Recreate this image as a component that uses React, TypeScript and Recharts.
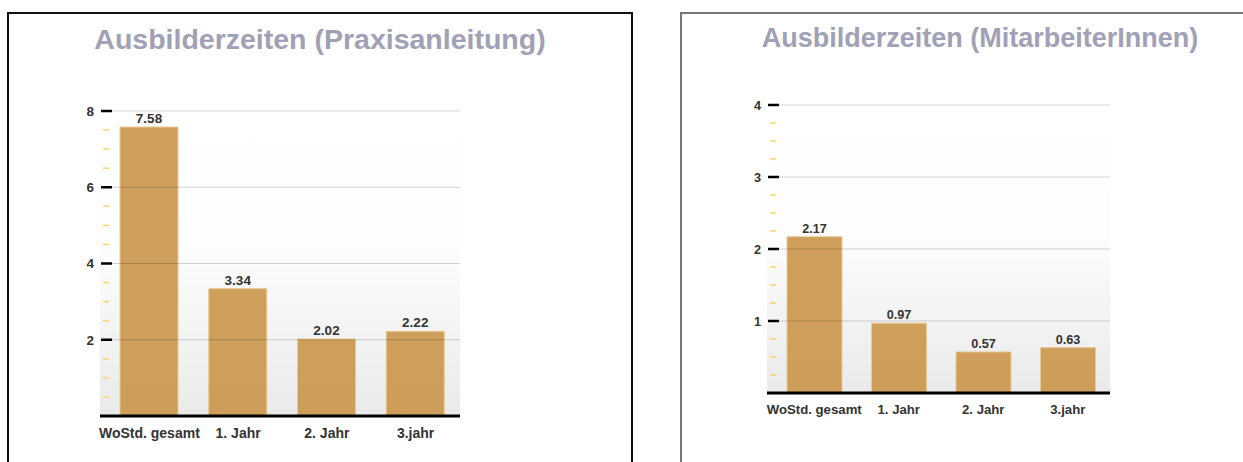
import React from 'react'
import { BarChart, Bar, XAxis, YAxis, CartesianGrid, LabelList } from 'recharts'

const categories = ['WoStd. gesamt', '1. Jahr', '2. Jahr', '3.jahr']
const praxisValues = [7.58, 3.34, 2.02, 2.22]
const mitarbeiterValues = [2.17, 0.97, 0.57, 0.63]
const praxisTicks = [0.5, 1, 1.5, 2, 2.5, 3, 3.5, 4, 4.5, 5, 5.5, 6, 6.5, 7, 7.5, 8]
const mitarbeiterTicks = [0.25, 0.5, 0.75, 1, 1.25, 1.5, 1.75, 2, 2.25, 2.5, 2.75, 3, 3.25, 3.5, 3.75, 4]

const FONT = '"Liberation Sans", Arial, sans-serif'
const TEXT = '#333333'

function makeYTick(left: number, right: number, major: number, fs: number) {
  return (props: any) => {
    const { y, payload } = props
    const v = payload.value
    if (v % major === 0) {
      return (
        <g>
          <line x1={left + 1} x2={left + 12} y1={y} y2={y} stroke="#000" strokeWidth={2.5} />
          <line x1={left + 12} x2={right} y1={y} y2={y} stroke="#000" strokeOpacity={0.17} strokeWidth={1} />
          <text x={left - 6} y={y} dy="0.36em" textAnchor="end" fontFamily={FONT} fontWeight="bold" fontSize={fs} fill={TEXT}>
            {v}
          </text>
        </g>
      )
    }
    return <line x1={left + 3} x2={left + 9} y1={y} y2={y} stroke="#f9d56a" strokeWidth={1.5} />
  }
}

interface PanelProps {
  id: string
  values: number[]
  ticks: number[]
  max: number
  major: number
  width: number
  plotLeft: number
  plotRight: number
  plotTop: number
  plotBottom: number
  barSize: number
  padLeft: number
  fontSize: number
}

function Panel(p: PanelProps) {
  const data = categories.map((name, i) => ({ name, value: p.values[i] }))
  const height = 462
  return (
    <BarChart
      width={p.width}
      height={height}
      data={data}
      margin={{ top: p.plotTop, right: p.width - p.plotRight, bottom: 0, left: 0 }}
    >
      <defs>
        <linearGradient id={p.id} x1="0" y1="0" x2="0" y2="1">
          <stop offset="0" stopColor="#ffffff" />
          <stop offset="0.45" stopColor="#fdfdfd" />
          <stop offset="1" stopColor="#eaeaea" />
        </linearGradient>
      </defs>
      <CartesianGrid horizontal={false} vertical={false} fill={`url(#${p.id})`} stroke="none" />
      <XAxis
        dataKey="name"
        height={height - p.plotBottom}
        axisLine={{ stroke: '#000', strokeWidth: 3 }}
        tickLine={false}
        tickSize={8}
        tickMargin={4}
        padding={{ left: p.padLeft, right: 0 }}
        interval={0}
        tick={{ fontFamily: FONT, fontWeight: 'bold', fontSize: p.fontSize, fill: TEXT }}
      />
      <YAxis
        width={p.plotLeft}
        domain={[0, p.max]}
        ticks={p.ticks}
        interval={0}
        axisLine={false}
        tickLine={false}
        tick={makeYTick(p.plotLeft, p.plotRight, p.major, p.fontSize - 0.5)}
      />
      <Bar dataKey="value" fill="#cb9a52" fillOpacity={0.95} stroke="#e9c995" strokeWidth={1} barSize={p.barSize} isAnimationActive={false}>
        <LabelList
          dataKey="value"
          position="top"
          offset={4}
          style={{ fontFamily: FONT, fontWeight: 'bold', fontSize: p.fontSize - 0.5, fill: TEXT }}
        />
      </Bar>
    </BarChart>
  )
}

const titleStyle: React.CSSProperties = {
  position: 'absolute',
  top: 24,
  fontFamily: FONT,
  fontWeight: 'bold',
  fontSize: 27,
  lineHeight: '32px',
  color: '#a0a0b6',
  textAlign: 'center',
  whiteSpace: 'nowrap',
}

export default function App() {
  return (
    <div style={{ position: 'absolute', left: 0, top: 0, width: 1243, height: 462, overflow: 'hidden', background: '#fff' }}>
      <div style={{ position: 'absolute', left: 7, top: 12, width: 626, height: 470, boxSizing: 'border-box', borderTop: '2px solid #111', borderLeft: '2px solid #111', borderRight: '2px solid #111' }} />
      <div style={{ position: 'absolute', left: 680, top: 12, width: 620, height: 470, boxSizing: 'border-box', borderTop: '2px solid #777', borderLeft: '2px solid #777', borderRight: '2px solid #777' }} />
      <div style={{ position: 'absolute', left: 0, top: 0 }}>
        <Panel id="bgL" values={praxisValues} ticks={praxisTicks} max={8} major={2} width={640}
          plotLeft={100} plotRight={460} plotTop={111} plotBottom={416} barSize={58} padLeft={5} fontSize={14} />
      </div>
      <div style={{ position: 'absolute', left: 640, top: 0 }}>
        <Panel id="bgR" values={mitarbeiterValues} ticks={mitarbeiterTicks} max={4} major={1} width={603}
          plotLeft={127} plotRight={470} plotTop={105} plotBottom={393} barSize={55} padLeft={5} fontSize={13.2} />
      </div>
      <div style={{ ...titleStyle, left: 20, top: 23, width: 600, fontSize: 28.5 }}>Ausbilderzeiten (Praxisanleitung)</div>
      <div style={{ ...titleStyle, left: 680, top: 22, width: 600 }}>Ausbilderzeiten (MitarbeiterInnen)</div>
    </div>
  )
}
